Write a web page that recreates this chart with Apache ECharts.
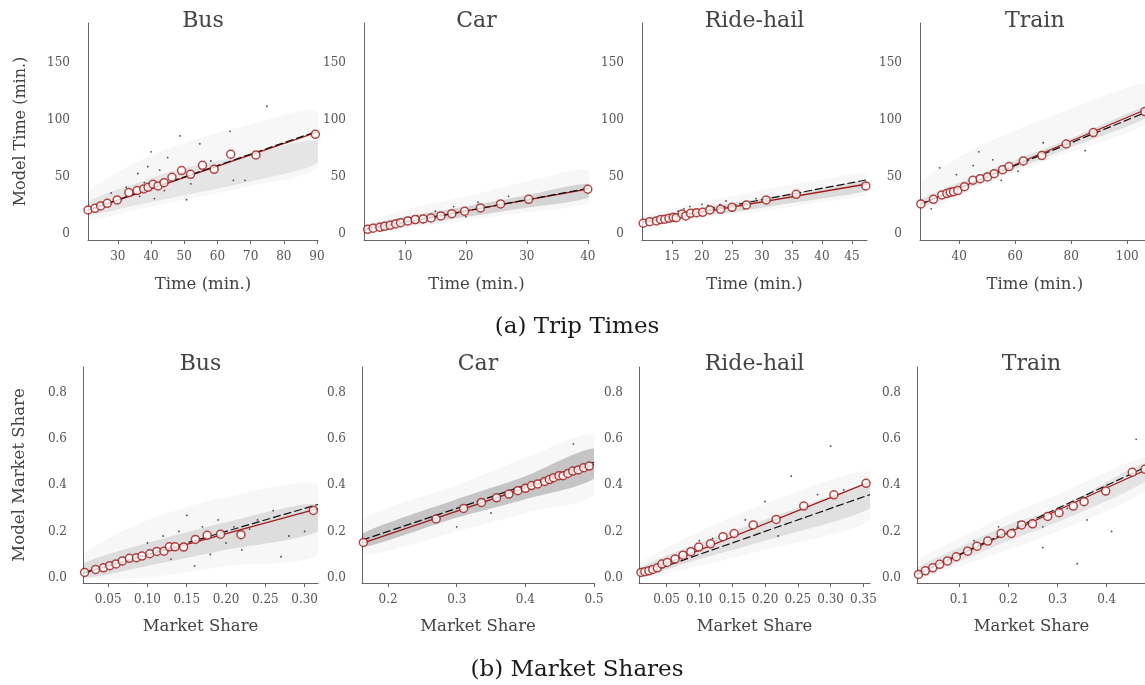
<!DOCTYPE html>
<html><head><meta charset="utf-8">
<script src="https://cdn.jsdelivr.net/npm/echarts@6/dist/echarts.min.js"></script>
<style>html,body{margin:0;padding:0;background:#fff}#c{width:1145px;height:685px}</style>
</head><body><div id="c"></div>
<script>
// ---------------- DATA ----------------
const modes = ['Bus', 'Car', 'Ride-hail', 'Train'];
const rowCaptions = ['(a) Trip Times', '(b) Market Shares'];
const rowXNames = ['Time (min.)', 'Market Share'];
const rowYNames = ['Model Time (min.)', 'Model Market Share'];

// (a) Trip times: binned means [observed, model]
const tripBinsBus = [[21.0,21],[23.1,22.5],[24.8,24.6],[26.8,26.9],[29.8,29.8],[33.3,36.3],[35.8,38],[37.8,39.5],[39.1,40.9],[40.6,43.6],[42.1,42.1],[43.9,45],[46.3,49.7],[49.2,55.6],[51.9,52.3],[55.5,60.2],[59,56.7],[64,69.9],[71.6,69.3],[89.5,87.4]];
const tripBinsCar = [[3.9,4.1],[4.8,5],[5.9,5.8],[6.7,6.7],[7.6,7.6],[8.5,8.8],[9.3,9.9],[10.5,11.4],[11.7,12.6],[13,13.2],[14.3,14],[15.9,15.8],[17.7,17.8],[19.8,19.9],[22.4,22.8],[25.7,26.3],[30.3,30.4],[40,39.2]];
const tripBinsRide = [[10.2,9.4],[11.3,10.8],[12.4,11.4],[13.1,12.6],[13.8,12.9],[14.5,13.7],[15.2,14.6],[15.7,14.3],[16.7,17.5],[17.3,15.8],[18.1,18.1],[19.1,18.7],[20.1,19],[21.3,21.1],[23.1,21.6],[25,23.4],[27.4,25.4],[30.7,29.8],[35.7,34.8],[47.3,42.1]];
const tripBinsTrain = [[26.3,26.3],[30.8,30.4],[33.8,34.2],[35.6,35.4],[36.8,36.5],[38,37.1],[39.5,38],[41.9,41.5],[44.9,47.1],[47.5,48.5],[50.1,50],[52.5,52.9],[55.5,56.4],[57.8,59.1],[62.9,64],[69.5,68.7],[78.2,78.9],[87.9,88.9],[106.3,107.3]];
// (a) fitted lines (endpoints)
const tripFitBus = [[21,20.6],[90.3,89.5]];
const tripFitCar = [[3.3,4.3],[40.2,39.6]];
const tripFitRide = [[10,10.2],[47.5,43.8]];
const tripFitTrain = [[26,25.6],[108,110.5]];
// (a) visible dark individual trips
const tripDotsBus = [[40,72],[54.7,79],[63.8,90],[74.9,112],[48.7,86],[39,59],[42.6,56],[36,53],[46.6,47],[50.7,30],[64.8,47],[36.6,33],[32.5,41],[54.7,58],[68.3,47],[44,38],[38,45],[58,64],[35,38],[28,36],[45,67],[52,44],[30,27],[41,31]];
const tripDotsCar = [[12,16],[15,20],[9,12],[18,24],[22,28],[27,33],[13,10],[20,15],[7,9],[11,14]];
const tripDotsRide = [[18,24],[21,25],[23,26],[19,21],[25,20],[29,31],[17,22],[24,29],[27,22],[20,26],[16,20],[22,23]];
const tripDotsTrain = [[39,52],[45,60],[55,47],[61,55],[85,73],[33,58],[70,80],[47,72],[30,22],[52,65]];
// (a) point-cloud envelopes: x, outer low/high, core low/high
const tripCloudBus = {x:[21,35,50,70,90], lo:[13,21,30,42,58], hi:[36,62,80,96,108], cLo:[17,25,34,46,62], cHi:[28,44,58,70,82]};
const tripCloudCar = {x:[3.3,10,20,30,40.2], lo:[2,5,12,19,28], hi:[9,21,33,46,56], cLo:[3,7,15,23,32], cHi:[7,15,24,34,44]};
const tripCloudRide = {x:[10,15,20,25,30,40,47.5], lo:[7,10,14,17,20,28,35], hi:[15,22,28,33,39,48,53], cLo:[8,12,16,19,23,31,38], cHi:[13,18,23,27,31,40,46]};
const tripCloudTrain = {x:[26,50,80,108], lo:[21,45,72,99], hi:[45,80,110,132], cLo:[23,47,76,103], cHi:[30,55,84,113]};

// (b) Market shares: binned means [observed, model]
const shareBinsBus = [[0.020,0.022],[0.034,0.035],[0.044,0.042],[0.052,0.051],[0.060,0.059],[0.068,0.072],[0.077,0.083],[0.086,0.086],[0.093,0.093],[0.103,0.103],[0.112,0.113],[0.121,0.114],[0.128,0.133],[0.135,0.133],[0.146,0.132],[0.161,0.165],[0.176,0.183],[0.193,0.188],[0.219,0.186],[0.311,0.291]];
const shareBinsCar = [[0.164,0.152],[0.270,0.254],[0.310,0.300],[0.336,0.326],[0.358,0.346],[0.376,0.362],[0.389,0.377],[0.400,0.387],[0.409,0.399],[0.418,0.406],[0.428,0.417],[0.435,0.425],[0.441,0.433],[0.449,0.442],[0.455,0.442],[0.462,0.452],[0.469,0.462],[0.477,0.467],[0.485,0.477],[0.493,0.484]];
const shareBinsRide = [[0.011,0.022],[0.017,0.025],[0.023,0.029],[0.029,0.035],[0.036,0.042],[0.043,0.058],[0.051,0.065],[0.063,0.080],[0.075,0.097],[0.087,0.112],[0.099,0.132],[0.117,0.146],[0.136,0.177],[0.153,0.191],[0.182,0.228],[0.217,0.252],[0.259,0.310],[0.305,0.359],[0.354,0.409]];
const shareBinsTrain = [[0.017,0.013],[0.031,0.029],[0.046,0.042],[0.060,0.057],[0.076,0.072],[0.094,0.090],[0.117,0.114],[0.136,0.136],[0.158,0.158],[0.185,0.191],[0.206,0.191],[0.227,0.228],[0.249,0.233],[0.280,0.265],[0.303,0.281],[0.332,0.310],[0.354,0.329],[0.398,0.375],[0.452,0.457],[0.478,0.470]];
// (b) fitted lines (endpoints)
const shareFitBus = [[0.018,0.021],[0.317,0.299]];
const shareFitCar = [[0.162,0.148],[0.5,0.49]];
const shareFitRide = [[0.008,0.014],[0.36,0.415]];
const shareFitTrain = [[0.014,0.013],[0.48,0.467]];
// (b) visible dark individual points
const shareDotsBus = [[0.14,0.2],[0.17,0.22],[0.19,0.25],[0.2,0.15],[0.21,0.22],[0.22,0.12],[0.13,0.08],[0.15,0.27],[0.26,0.29],[0.28,0.18],[0.18,0.1],[0.24,0.25],[0.1,0.15],[0.16,0.05],[0.23,0.21],[0.12,0.18],[0.27,0.09],[0.3,0.2]];
const shareDotsCar = [[0.3,0.22],[0.35,0.28],[0.47,0.58]];
const shareDotsRide = [[0.3,0.57],[0.24,0.44],[0.15,0.2],[0.17,0.25],[0.2,0.33],[0.28,0.36],[0.12,0.17],[0.32,0.38],[0.22,0.18],[0.1,0.16]];
const shareDotsTrain = [[0.18,0.22],[0.27,0.22],[0.32,0.3],[0.36,0.25],[0.41,0.2],[0.27,0.13],[0.46,0.6],[0.22,0.24],[0.34,0.06],[0.13,0.16]];
// (b) point-cloud envelopes
const shareCloudBus = {x:[0.018,0.1,0.2,0.317], lo:[0,0.0,0.05,0.1], hi:[0.1,0.25,0.35,0.4], cLo:[0.0,0.05,0.12,0.2], cHi:[0.06,0.15,0.24,0.32]};
const shareCloudCar = {x:[0.162,0.3,0.4,0.5], lo:[0.1,0.2,0.28,0.36], hi:[0.25,0.4,0.52,0.62], cLo:[0.13,0.26,0.34,0.43], cHi:[0.19,0.34,0.44,0.56]};
const shareCloudRide = {x:[0.008,0.1,0.2,0.36], lo:[0,0.05,0.12,0.25], hi:[0.06,0.2,0.32,0.46], cLo:[0,0.08,0.16,0.3], cHi:[0.04,0.15,0.25,0.4]};
const shareCloudTrain = {x:[0.014,0.1,0.2,0.3,0.48], lo:[0,0.05,0.12,0.2,0.38], hi:[0.07,0.17,0.27,0.36,0.52], cLo:[0,0.07,0.16,0.24,0.42], cHi:[0.04,0.13,0.23,0.3,0.5]};

// Axis ranges and ticks
const tripXRange = [[21,90.3],[3.3,40.2],[10,47.5],[26,108]];
const shareXRange = [[0.018,0.317],[0.162,0.5],[0.008,0.36],[0.014,0.48]];
const tripYRange = [-5.3,185];
const shareYRange = [-0.024,0.914];
const tripXTicks = [[30,40,50,60,70,80,90],[10,20,30,40],[15,20,25,30,35,40,45],[40,60,80,100]];
const tripXTickLabels = [['30','40','50','60','70','80','90'],['10','20','30','40'],['15','20','25','30','35','40','45'],['40','60','80','100']];
const shareXTicks = [[0.05,0.10,0.15,0.20,0.25,0.30],[0.2,0.3,0.4,0.5],[0.05,0.10,0.15,0.20,0.25,0.30,0.35],[0.1,0.2,0.3,0.4]];
const shareXTickLabels = [['0.05','0.10','0.15','0.20','0.25','0.30'],['0.2','0.3','0.4','0.5'],['0.05','0.10','0.15','0.20','0.25','0.30','0.35'],['0.1','0.2','0.3','0.4']];
const tripYTicks = [0,50,100,150];
const tripYTickLabels = ['0','50','100','150'];
const shareYTicks = [0,0.2,0.4,0.6,0.8];
const shareYTickLabels = ['0.0','0.2','0.4','0.6','0.8'];

// ---------------- LAYOUT / STYLE ----------------
const FONT = "'DejaVu Serif', serif";
const RED = '#a31818';
const rows = [
  {top:23, height:217, rects:[[88,230],[364,225],[642,225],[920,229.6]], titleY:21, captionY:327, yMargin:18, yNameGap:59, xNameGap:36,
   bins:[tripBinsBus,tripBinsCar,tripBinsRide,tripBinsTrain], fits:[tripFitBus,tripFitCar,tripFitRide,tripFitTrain],
   dots:[tripDotsBus,tripDotsCar,tripDotsRide,tripDotsTrain], clouds:[tripCloudBus,tripCloudCar,tripCloudRide,tripCloudTrain],
   xr:tripXRange, yr:tripYRange, xt:tripXTicks, xtl:tripXTickLabels, yt:tripYTicks, ytl:tripYTickLabels, coreA:[0.07,0.14,0.11,0.09]},
  {top:367, height:216, rects:[[83,235],[362,232],[639,231],[917,229]], titleY:364, captionY:670, yMargin:16, yNameGap:55, xNameGap:35,
   bins:[shareBinsBus,shareBinsCar,shareBinsRide,shareBinsTrain], fits:[shareFitBus,shareFitCar,shareFitRide,shareFitTrain],
   dots:[shareDotsBus,shareDotsCar,shareDotsRide,shareDotsTrain], clouds:[shareCloudBus,shareCloudCar,shareCloudRide,shareCloudTrain],
   xr:shareXRange, yr:shareYRange, xt:shareXTicks, xtl:shareXTickLabels, yt:shareYTicks, ytl:shareYTickLabels, coreA:[0.1,0.2,0.09,0.08]}
];

function labelFor(vals, labs) {
  return v => { let b = 0; for (let i = 1; i < vals.length; i++) if (Math.abs(vals[i]-v) < Math.abs(vals[b]-v)) b = i; return labs[b]; };
}
function band(idx, xs, lo, hi, fill) {
  return {type:'custom', xAxisIndex:idx, yAxisIndex:idx, silent:true, clip:true, z:1,
    data:[[xs[0], lo[0]]],
    renderItem:(params, api) => {
      const pts = [];
      for (let k = 0; k < xs.length; k++) pts.push(api.coord([xs[k], hi[k]]));
      for (let k = xs.length-1; k >= 0; k--) pts.push(api.coord([xs[k], lo[k]]));
      return {type:'polygon', shape:{points:pts, smooth:0.25}, style:{fill:fill}};
    }};
}

const grid = [], xAxis = [], yAxis = [], series = [], graphic = [];
rows.forEach((r, ri) => {
  r.rects.forEach((rc, pi) => {
    const idx = ri*4 + pi;
    grid.push({left:rc[0], top:r.top, width:rc[1], height:r.height, containLabel:false, outerBoundsMode:'none'});
    xAxis.push({type:'value', gridIndex:idx, min:r.xr[pi][0], max:r.xr[pi][1],
      name:rowXNames[ri], nameLocation:'middle', nameGap:r.xNameGap,
      nameTextStyle:{fontFamily:FONT, fontSize:16.5, color:'#444'},
      axisLine:{show:true, onZero:false, lineStyle:{color:'#666', width:1}},
      axisTick:{show:true, length:4, customValues:r.xt[pi], lineStyle:{color:'#666'}},
      axisLabel:{show:true, customValues:r.xt[pi], margin:11, fontFamily:FONT, fontSize:12, color:'#555', formatter:labelFor(r.xt[pi], r.xtl[pi])},
      splitLine:{show:false}});
    yAxis.push({type:'value', gridIndex:idx, min:r.yr[0], max:r.yr[1],
      name: pi === 0 ? rowYNames[ri] : '', nameLocation:'middle', nameGap:r.yNameGap,
      nameTextStyle:{fontFamily:FONT, fontSize: ri === 0 ? 16 : 16.5, color:'#444'},
      axisLine:{show:true, onZero:false, lineStyle:{color:'#666', width:1}},
      axisTick:{show:false},
      axisLabel:{show:true, customValues:r.yt, margin:r.yMargin, fontFamily:FONT, fontSize:12, color:'#555', formatter:labelFor(r.yt, r.ytl)},
      splitLine:{show:false}});
    const c = r.clouds[pi];
    series.push(band(idx, c.x, c.lo, c.hi, 'rgba(0,0,0,0.03)'));
    series.push(band(idx, c.x, c.cLo, c.cHi, 'rgba(0,0,0,' + r.coreA[pi] + ')'));
    series.push({type:'scatter', xAxisIndex:idx, yAxisIndex:idx, data:r.dots[pi], symbolSize:1.8, silent:true, z:2,
      itemStyle:{color:'#111', opacity:0.75}});
    series.push({type:'line', xAxisIndex:idx, yAxisIndex:idx, data:r.fits[pi], symbol:'none', silent:true, z:3,
      lineStyle:{color:RED, width:1.3}});
    const xr = r.xr[pi];
    series.push({type:'line', xAxisIndex:idx, yAxisIndex:idx, data:[[xr[0],xr[0]],[xr[1],xr[1]]], symbol:'none', silent:true, z:4,
      lineStyle:{color:'#111', width:1.2, type:[8,3]}});
    series.push({type:'scatter', xAxisIndex:idx, yAxisIndex:idx, data:r.bins[pi], symbol:'circle', symbolSize:8, silent:true, z:5,
      itemStyle:{color:'#fff', borderColor:RED, borderWidth:1.5}});
    graphic.push({type:'text', x: rc[0] + rc[1]/2, y: r.titleY, z:10,
      style:{text:modes[pi], font:'22px ' + FONT, fill:'#444', align:'center', verticalAlign:'middle'}});
  });
  graphic.push({type:'text', x:577, y:r.captionY, z:10,
    style:{text:rowCaptions[ri], font:'23px ' + FONT, fill:'#1a1a1a', align:'center', verticalAlign:'middle'}});
});

const chart = echarts.init(document.getElementById('c'), null, {renderer:'canvas'});
chart.setOption({animation:false, backgroundColor:'#fff', grid, xAxis, yAxis, series, graphic});
</script>
</body></html>
